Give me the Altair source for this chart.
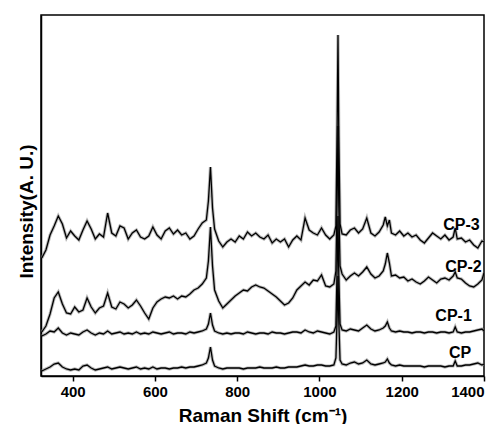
import altair as alt
import pandas as pd

# Raman shift grid (cm^-1)
raman_shift = [
    325, 335, 345, 355, 365, 375, 385, 395, 405, 415,
    425, 435, 445, 455, 465, 475, 485, 495, 505, 515,
    525, 535, 545, 555, 565, 575, 585, 595, 605, 615,
    625, 635, 645, 655, 665, 675, 685, 695, 705, 715,
    725, 730, 735, 740, 745, 755, 765, 775, 785, 795,
    805, 815, 825, 835, 845, 855, 865, 875, 885, 895,
    905, 915, 925, 935, 945, 955, 965, 975, 985, 995,
    1005, 1015, 1025, 1035, 1040, 1043, 1045, 1047, 1050, 1055,
    1065, 1075, 1085, 1095, 1105, 1115, 1125, 1135, 1145, 1155,
    1160, 1165, 1170, 1175, 1185, 1195, 1205, 1215, 1225, 1235,
    1245, 1255, 1265, 1275, 1285, 1295, 1305, 1315, 1325, 1330,
    1335, 1345, 1355, 1365, 1375, 1385, 1395, 1400,
]

cp3 = [
    118, 126, 141, 150, 160, 152, 138, 145, 140, 136,
    146, 155, 147, 137, 142, 139, 163, 143, 140, 150,
    148, 137, 143, 146, 139, 137, 140, 149, 141, 137,
    145, 148, 142, 146, 141, 143, 137, 140, 147, 153,
    156, 175, 209, 168, 147, 135, 129, 134, 137, 134,
    140, 137, 144, 140, 143, 139, 137, 141, 133, 137,
    134, 137, 129, 136, 140, 136, 158, 146, 143, 141,
    148, 141, 137, 141, 150, 250, 341, 240, 152, 142,
    141, 146, 148, 143, 147, 158, 143, 140, 144, 151,
    159, 150, 156, 143, 141, 145, 140, 143, 139, 141,
    136, 133, 138, 143, 140, 137, 141, 136, 139, 148,
    137, 138, 134, 136, 131, 128, 135, 134,
]

cp2 = [
    44, 50, 62, 78, 84, 72, 63, 62, 69, 64,
    66, 78, 69, 63, 68, 70, 83, 69, 67, 74,
    72, 68, 71, 76, 70, 63, 57, 68, 74, 77,
    79, 78, 80, 77, 80, 79, 82, 86, 88, 92,
    98, 115, 149, 110, 86, 75, 68, 72, 76, 80,
    83, 86, 85, 89, 91, 89, 88, 85, 82, 79,
    75, 71, 73, 78, 86, 90, 94, 91, 96, 95,
    101, 90, 89, 92, 105, 180, 250, 170, 110, 102,
    96, 100, 103, 100, 104, 109, 102, 98, 100, 105,
    112, 123, 113, 100, 101, 98, 99, 95, 97, 94,
    92, 95, 99, 96, 93, 97, 98, 96, 100, 104,
    98, 97, 93, 90, 89, 92, 96, 103,
]

cp1 = [
    40, 42, 45, 44, 48, 43, 41, 43, 42, 41,
    44, 46, 43, 41, 43, 42, 45, 42, 43, 44,
    42, 43, 42, 44, 42, 43, 42, 44, 43, 42,
    43, 44, 42, 43, 43, 42, 44, 43, 44, 45,
    47, 52, 63, 51, 45, 43, 42, 43, 42, 43,
    43, 42, 44, 43, 42, 43, 43, 42, 44, 43,
    43, 42, 43, 44, 44, 43, 46, 44, 43, 45,
    44, 43, 42, 44, 50, 110, 160, 100, 52, 46,
    45, 47, 46, 45, 48, 51, 47, 45, 46, 48,
    50, 54, 48, 45, 44, 45, 44, 44, 43, 44,
    44, 43, 44, 44, 43, 44, 44, 43, 44, 49,
    44, 43, 44, 44, 45, 46, 47, 45,
]

cp = [
    5, 7, 9, 12, 13, 9, 7, 6, 7, 6,
    10, 11, 8, 6, 7, 8, 9, 7, 8, 9,
    8, 7, 8, 9, 7, 8, 7, 9, 7, 8,
    8, 7, 8, 8, 9, 8, 9, 9, 10, 11,
    13, 18, 29, 16, 10, 8, 7, 8, 8, 8,
    8, 7, 8, 8, 8, 9, 8, 8, 8, 9,
    8, 8, 9, 9, 9, 10, 11, 10, 10, 11,
    11, 10, 10, 11, 18, 60, 100, 55, 16, 12,
    11, 13, 14, 12, 13, 16, 12, 11, 12, 13,
    14, 17, 13, 11, 10, 11, 10, 10, 10, 10,
    10, 9, 10, 10, 10, 10, 9, 10, 10, 15,
    10, 10, 11, 11, 12, 13, 11, 12,
]

series_names = ["CP", "CP-1", "CP-2", "CP-3"]
series_values = [cp, cp1, cp2, cp3]

label_text = ["CP-3", "CP-2", "CP-1", "CP"]
label_x = [1345, 1350, 1326, 1342]
label_y = [151, 109, 60, 23]

x_ticks = [400, 600, 800, 1000, 1200, 1400]

rows = []
for name, vals in zip(series_names, series_values):
    for xv, yv in zip(raman_shift, vals):
        rows.append({"shift": xv, "intensity": yv, "series": name})
df = pd.DataFrame(rows)
labels = pd.DataFrame({"text": label_text, "x": label_x, "y": label_y})

FONT = "Liberation Sans"

xscale = alt.Scale(domain=[323, 1400], nice=False, zero=False)
yscale = alt.Scale(domain=[0, 361], nice=False, zero=False)

base = alt.Chart(df).encode(
    x=alt.X("shift:Q", scale=xscale,
            axis=alt.Axis(values=x_ticks, format="d", title="Raman Shift (cm⁻¹)",
                          titleY=45, titleBaseline="alphabetic")),
    y=alt.Y("intensity:Q", scale=yscale,
            axis=alt.Axis(ticks=False, labels=False, grid=False,
                          title="Intensity(A. U.)", titleX=-15, titleY=196,
                          titleBaseline="middle", titleAlign="center")),
    detail="series:N",
    order="shift:Q",
)

fuzz = base.mark_line(color="#8a8a8a", strokeWidth=3.2, opacity=0.6, clip=True)
lines = base.mark_line(color="black", strokeWidth=1.3, clip=True)

text = alt.Chart(labels).mark_text(
    font=FONT, fontSize=16, fontWeight="bold", color="black",
    align="center", baseline="middle",
).encode(
    x=alt.X("x:Q", scale=xscale),
    y=alt.Y("y:Q", scale=yscale),
    text="text:N",
)

chart = alt.layer(fuzz, lines, text).properties(
    width=443, height=361,
    background="white",
    autosize=alt.AutoSizeParams(type="none"),
    padding={"left": 33, "top": 7, "right": 9, "bottom": 48},
).configure_view(
    stroke="black", strokeWidth=1.5,
).configure_axis(
    grid=False,
    domainColor="black", domainWidth=1.5,
    tickColor="black", tickWidth=1.5, tickSize=5,
    labelFont=FONT, labelFontSize=15, labelFontWeight="bold", labelColor="black",
    labelPadding=3,
    titleFont=FONT, titleFontSize=19, titleFontWeight="bold", titleColor="black",
)

chart.save("out.html", embed_options={"renderer": "svg", "actions": False})
